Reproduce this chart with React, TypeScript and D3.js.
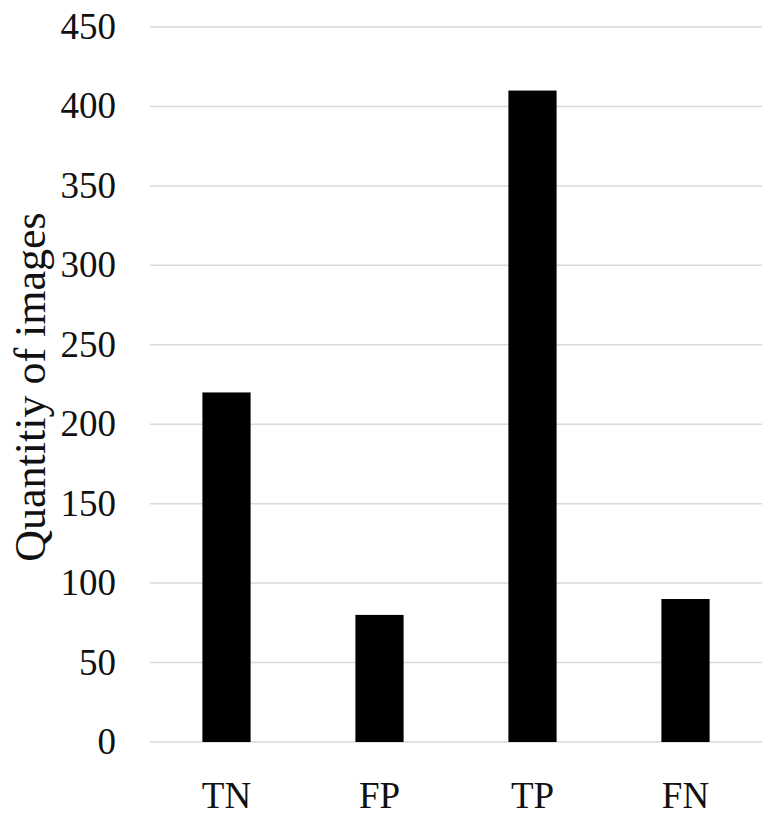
import React, { useEffect, useRef } from 'react';
import * as d3 from 'd3';

const categories = ['TN', 'FP', 'TP', 'FN'];
const values = [220, 80, 410, 90];
const yTicks = [0, 50, 100, 150, 200, 250, 300, 350, 400, 450];
const yTitle = 'Quantitiy of images';

const App = () => {
  const ref = useRef<SVGSVGElement>(null);
  const width = 777, height = 826;
  const left = 150, right = 762, top = 27, bottom = 742;

  useEffect(() => {
    const svg = d3.select(ref.current);
    svg.selectAll('*').remove();
    const font = '"Liberation Serif", "Times New Roman", serif';

    const x = d3.scaleBand().domain(categories).range([left, right])
      .paddingInner(0.685).paddingOuter(0.3425);
    const y = d3.scaleLinear().domain([0, 450]).range([bottom, top]);

    // gridlines
    svg.append('g').selectAll('line').data(yTicks).enter().append('line')
      .attr('x1', left).attr('x2', right)
      .attr('y1', d => y(d)).attr('y2', d => y(d))
      .attr('stroke', '#d9d9d9').attr('stroke-width', 1.5);

    // tick labels
    svg.append('g').selectAll('text').data(yTicks).enter().append('text')
      .attr('x', 116).attr('y', d => y(d) + 12)
      .attr('text-anchor', 'end')
      .style('font-family', font).style('font-size', '37px').style('fill', '#111')
      .text(d => d);

    // bars
    svg.append('g').selectAll('rect').data(values).enter().append('rect')
      .attr('x', (d, i) => x(categories[i])!)
      .attr('y', d => y(d))
      .attr('width', x.bandwidth())
      .attr('height', d => bottom - y(d))
      .attr('fill', '#000');

    // category labels
    svg.append('g').selectAll('text').data(categories).enter().append('text')
      .attr('x', d => x(d)! + x.bandwidth() / 2).attr('y', 808)
      .attr('text-anchor', 'middle')
      .style('font-family', font).style('font-size', '37px').style('fill', '#111')
      .text(d => d);

    svg.append('text')
      .attr('transform', `translate(45, 387) rotate(-90)`)
      .attr('text-anchor', 'middle')
      .style('font-family', font).style('font-size', '44px').style('fill', '#111')
      .text(yTitle);
  }, []);

  return (
    <svg ref={ref} width={width} height={height}
      style={{ position: 'absolute', left: 0, top: 0, background: '#fff' }} />
  );
};

export default App;
